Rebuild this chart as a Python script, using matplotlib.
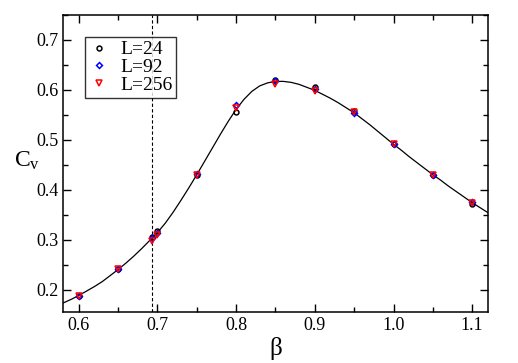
import numpy as np
import matplotlib.pyplot as plt
from matplotlib.ticker import MultipleLocator

plt.rcParams['font.family'] = ['Liberation Serif', 'DejaVu Serif']
plt.rcParams['mathtext.fontset'] = 'custom'
plt.rcParams['mathtext.rm'] = 'Liberation Serif'
plt.rcParams['mathtext.it'] = 'Liberation Serif'

# data points (beta, Cv) for each lattice size
beta = [0.6, 0.65, 0.6931, 0.7, 0.75, 0.8, 0.85, 0.9, 0.95, 1.0, 1.05, 1.1]
cv_L24 = [0.187, 0.241, 0.306, 0.318, 0.430, 0.555, 0.620, 0.605, 0.557, 0.491, 0.430, 0.372]
cv_L92 = [0.187, 0.241, 0.303, 0.314, 0.431, 0.570, 0.618, 0.601, 0.553, 0.491, 0.430, 0.376]
cv_L256 = [0.187, 0.241, 0.298, 0.309, 0.430, 0.563, 0.611, 0.597, 0.555, 0.491, 0.430, 0.374]

# fitted curve
beta_fit = [0.58, 0.59, 0.60, 0.61, 0.62, 0.63, 0.64, 0.65, 0.66, 0.67, 0.68, 0.69,
            0.70, 0.71, 0.72, 0.73, 0.74, 0.75, 0.76, 0.77, 0.78, 0.79, 0.80, 0.81,
            0.82, 0.83, 0.84, 0.85, 0.86, 0.87, 0.88, 0.89, 0.90, 0.91, 0.92, 0.93,
            0.94, 0.95, 0.96, 0.97, 0.98, 0.99, 1.00, 1.01, 1.02, 1.03, 1.04, 1.05,
            1.06, 1.07, 1.08, 1.09, 1.10, 1.11, 1.12]
cv_fit = [0.173, 0.180, 0.188, 0.197, 0.206, 0.216, 0.228, 0.240, 0.253, 0.267, 0.282, 0.298,
          0.314, 0.333, 0.355, 0.379, 0.404, 0.430, 0.457, 0.484, 0.511, 0.537, 0.561, 0.581,
          0.597, 0.608, 0.614, 0.617, 0.617, 0.615, 0.611, 0.605, 0.599, 0.591, 0.583, 0.574,
          0.564, 0.554, 0.542, 0.530, 0.517, 0.504, 0.491, 0.479, 0.466, 0.454, 0.442, 0.430,
          0.419, 0.407, 0.396, 0.385, 0.374, 0.364, 0.354]

beta_c = 0.6931

fig = plt.figure(figsize=(5.18, 3.63), dpi=100)
ax = fig.add_axes([0.1216, 0.1405, 0.8204, 0.8182])

ax.plot(beta_fit, cv_fit, color='black', lw=0.9)
ax.axvline(beta_c, color='black', lw=0.8, ls=(0, (3, 2)))

ax.plot(beta, cv_L24, 'o', mfc='none', mec='black', ms=3.5, mew=1.1, label='L=24')
ax.plot(beta, cv_L92, 'D', mfc='none', mec='blue', ms=3, mew=1.1, label='L=92')
ax.plot(beta, cv_L256, 'v', mfc='none', mec='red', ms=4, mew=1.1, label='L=256')

ax.set_xlim(0.58, 1.12)
ax.set_ylim(0.155, 0.75)
ax.xaxis.set_major_locator(MultipleLocator(0.1))
ax.xaxis.set_minor_locator(MultipleLocator(0.05))
ax.yaxis.set_major_locator(MultipleLocator(0.1))
ax.yaxis.set_minor_locator(MultipleLocator(0.05))
ax.tick_params(which='both', direction='in', top=True, right=True, labelsize=13)
ax.tick_params(which='major', length=6, width=1)
ax.tick_params(which='minor', length=3.5, width=1)
for s in ax.spines.values():
    s.set_linewidth(1.1)

ax.set_xlabel('β', fontsize=18, labelpad=2)
ax.set_ylabel(r'$\mathrm{C_v}$', fontsize=17, rotation=0, va='center')
ax.yaxis.set_label_coords(-0.085, 0.51)

leg = ax.legend(loc='upper left', bbox_to_anchor=(0.052, 0.926), fontsize=14,
                frameon=True, fancybox=False, edgecolor='black', handlelength=1.0,
                handletextpad=0.6, borderpad=0.2, labelspacing=0.0, borderaxespad=0)
leg.get_frame().set_linewidth(1.0)

fig.savefig('out.png', dpi=100)
